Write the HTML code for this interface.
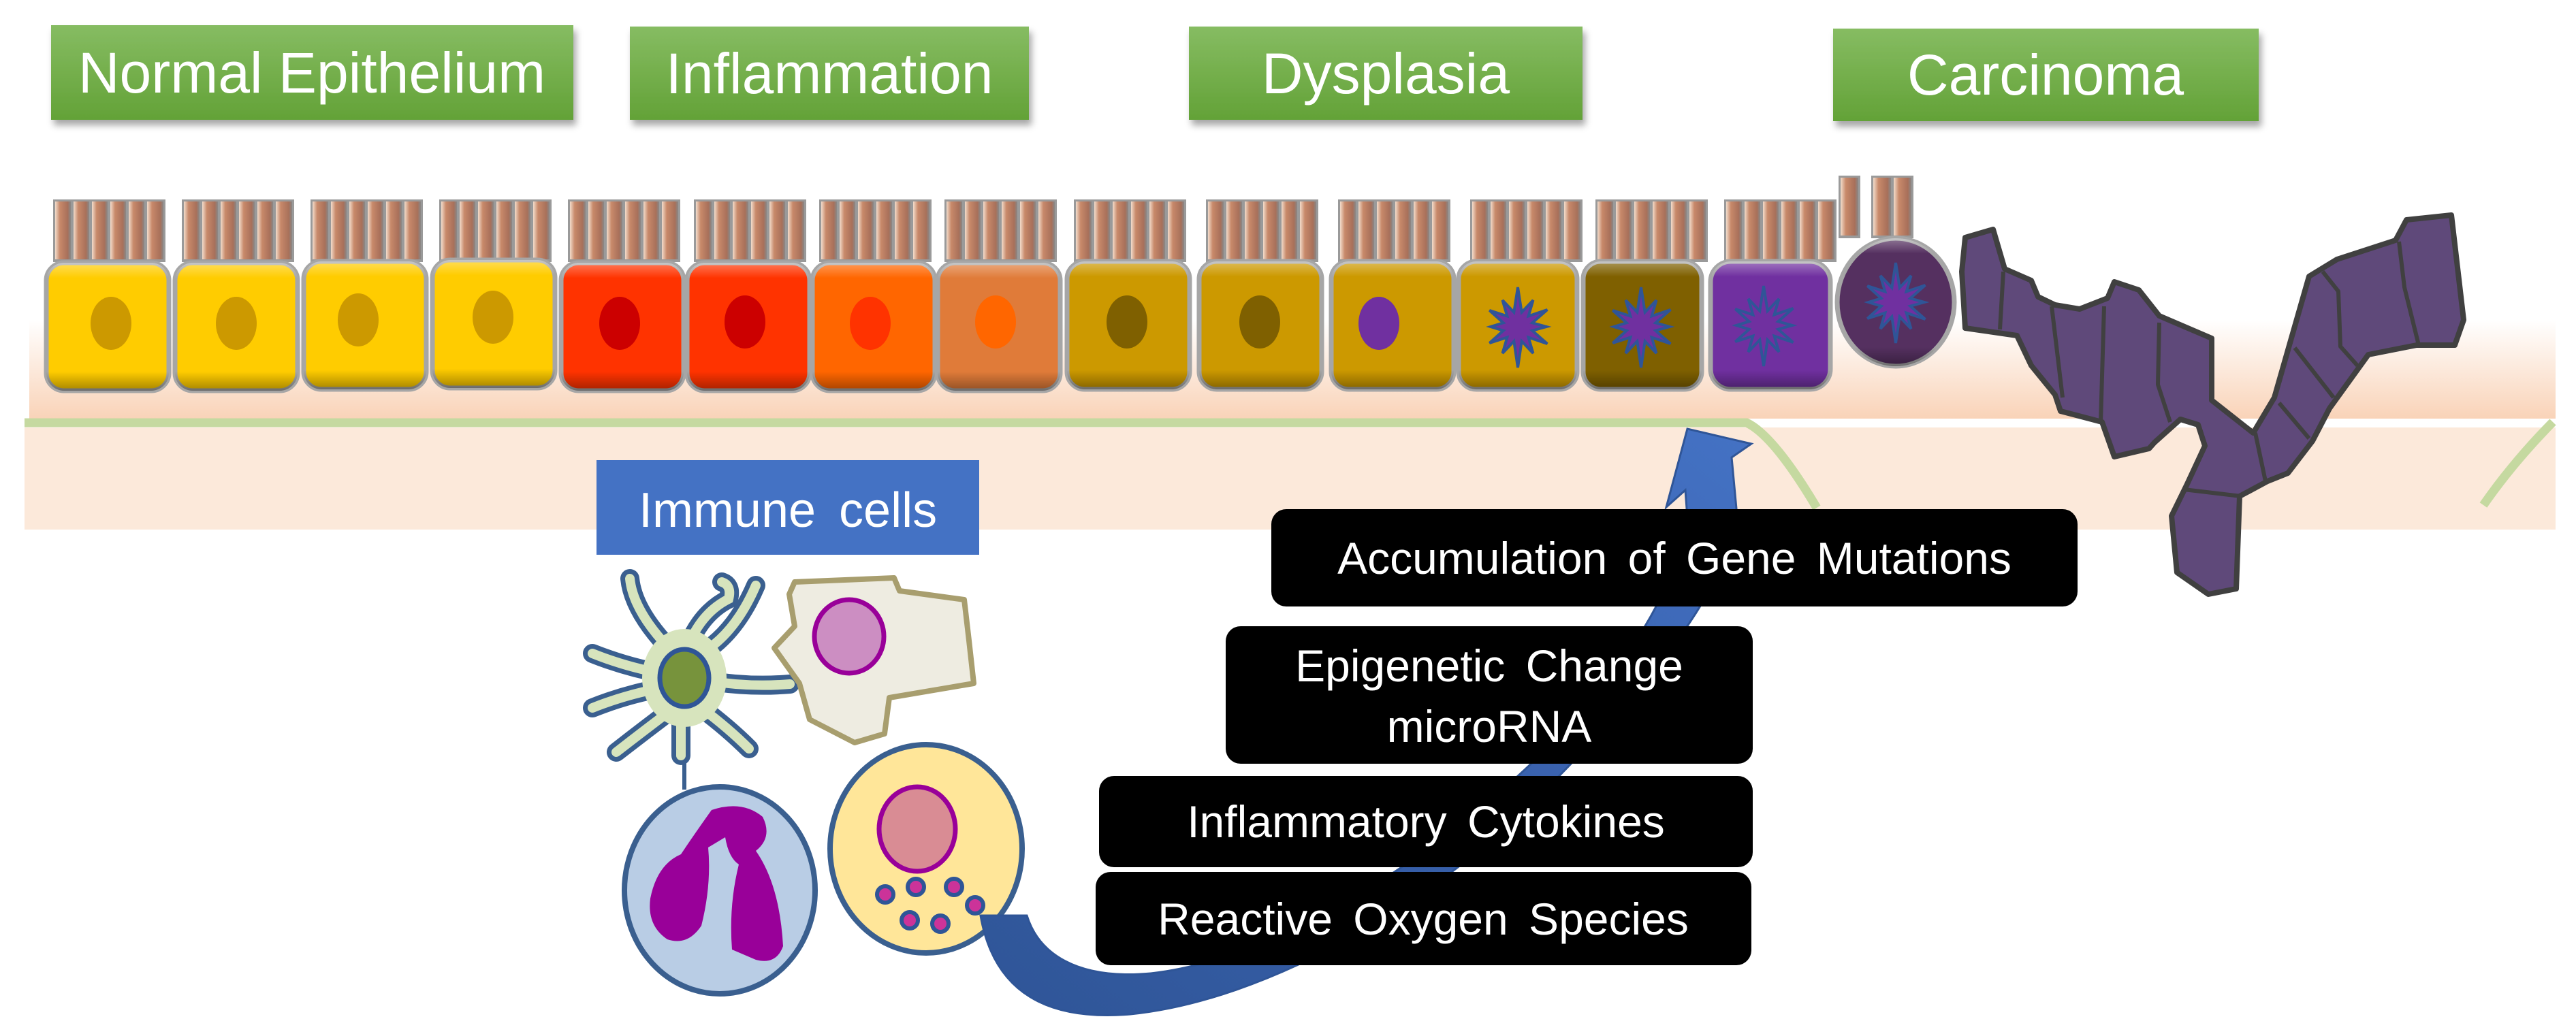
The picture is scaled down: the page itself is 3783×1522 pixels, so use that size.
<!DOCTYPE html>
<html><head><meta charset="utf-8"><style>
html,body{margin:0;padding:0;background:#fff;}
svg{display:block;}
text{font-family:"Liberation Sans",Arial,sans-serif;}
</style></head><body>
<svg width="3783" height="1522" viewBox="0 0 3783 1522" xmlns="http://www.w3.org/2000/svg">
<defs>
<linearGradient id="peach" x1="0" y1="0" x2="0" y2="1">
<stop offset="0" stop-color="#fff"/><stop offset="1" stop-color="#F9D3B8"/></linearGradient>
<linearGradient id="grn" x1="0" y1="0" x2="0" y2="1">
<stop offset="0" stop-color="#86BC62"/><stop offset="1" stop-color="#63A237"/></linearGradient>
<linearGradient id="shade" x1="0" y1="0" x2="0" y2="1">
<stop offset="0" stop-color="#fff" stop-opacity="0.35"/><stop offset="0.12" stop-color="#fff" stop-opacity="0"/>
<stop offset="0.85" stop-color="#000" stop-opacity="0"/><stop offset="1" stop-color="#000" stop-opacity="0.35"/></linearGradient>
<linearGradient id="cilg" x1="0" y1="0" x2="1" y2="0">
<stop offset="0" stop-color="#F2DCCB"/><stop offset="0.3" stop-color="#C8896A"/><stop offset="0.8" stop-color="#A8705A"/><stop offset="1" stop-color="#888"/></linearGradient>
<linearGradient id="arr" x1="0" y1="1" x2="1" y2="0">
<stop offset="0" stop-color="#2F5597"/><stop offset="0.6" stop-color="#3A63B0"/><stop offset="1" stop-color="#4472C4"/></linearGradient>
<filter id="ds" x="-5%" y="-10%" width="115%" height="130%"><feDropShadow dx="4" dy="8" stdDeviation="5" flood-color="#000" flood-opacity="0.35"/></filter>
<g id="cil">
<rect x="0" y="293" width="165" height="92" fill="#9A9A9A"/>
<rect x="3" y="296" width="23" height="85" fill="url(#cilg)"/>
<rect x="30" y="296" width="23" height="85" fill="url(#cilg)"/>
<rect x="57" y="296" width="23" height="85" fill="url(#cilg)"/>
<rect x="84" y="296" width="23" height="85" fill="url(#cilg)"/>
<rect x="111" y="296" width="23" height="85" fill="url(#cilg)"/>
<rect x="138" y="296" width="24" height="85" fill="url(#cilg)"/>
</g>
<polygon id="star" points="0,-58 5.7,-21.3 22.5,-39 15.6,-15.6 43.3,-25 21.3,-5.7 42,0 21.3,5.7 43.3,25 15.6,15.6 22.5,39 5.7,21.3 0,60 -5.7,21.3 -22.5,39 -15.6,15.6 -41.6,24 -21.3,5.7 -40,0 -21.3,-5.7 -41.6,-24 -15.6,-15.6 -22.5,-39 -5.7,-21.3" fill="#7030A0" stroke="#2F5597" stroke-width="4"/>
</defs>

<!-- tissue background -->
<rect x="43" y="470" width="3710" height="145" fill="url(#peach)"/>
<rect x="36" y="628" width="3717" height="150" fill="#FCE9DA"/>
<path d="M36,621 L2565,621 Q2605,640 2668,746" fill="none" stroke="#C5D9A0" stroke-width="13"/>
<path d="M3749,620 Q3690,680 3647,742" fill="none" stroke="#C5D9A0" stroke-width="13"/>

<!-- green labels -->
<g filter="url(#ds)">
<rect x="75" y="37" width="767" height="139" fill="url(#grn)"/>
<rect x="925" y="39" width="586" height="137" fill="url(#grn)"/>
<rect x="1746" y="39" width="578" height="137" fill="url(#grn)"/>
<rect x="2692" y="42" width="625" height="136" fill="url(#grn)"/>
</g>
<g fill="#fff" font-size="84" text-anchor="middle">
<text x="458" y="136">Normal Epithelium</text>
<text x="1218" y="137">Inflammation</text>
<text x="2035" y="137">Dysplasia</text>
<text x="3004" y="139">Carcinoma</text>
</g>

<!-- cilia -->
<use href="#cil" x="78"/><use href="#cil" x="267"/><use href="#cil" x="456"/><use href="#cil" x="645"/>
<use href="#cil" x="834"/><use href="#cil" x="1019"/><use href="#cil" x="1203"/><use href="#cil" x="1387"/>
<use href="#cil" x="1577"/><use href="#cil" x="1771"/><use href="#cil" x="1965"/><use href="#cil" x="2159"/>
<use href="#cil" x="2343"/><use href="#cil" x="2532"/>
<rect x="2700" y="258" width="32" height="92" fill="#9A9A9A"/><rect x="2703" y="261" width="26" height="85" fill="url(#cilg)"/>
<rect x="2748" y="258" width="62" height="92" fill="#9A9A9A"/><rect x="2751" y="261" width="26" height="85" fill="url(#cilg)"/><rect x="2781" y="261" width="26" height="85" fill="url(#cilg)"/>

<!-- cells -->
<g stroke="#A6A6A6" stroke-width="7">
<rect x="68" y="386" width="180" height="188" rx="26" fill="#FFCC00"/>
<rect x="257" y="386" width="180" height="188" rx="26" fill="#FFCC00"/>
<rect x="446" y="384" width="180" height="188" rx="26" fill="#FFCC00"/>
<rect x="635" y="382" width="180" height="188" rx="26" fill="#FFCC00"/>
<rect x="824" y="386" width="180" height="188" rx="26" fill="#FF3300"/>
<rect x="1009" y="386" width="180" height="188" rx="26" fill="#FF3300"/>
<rect x="1193" y="386" width="180" height="188" rx="26" fill="#FF6600"/>
<rect x="1377" y="386" width="180" height="188" rx="26" fill="#E07B39"/>
<rect x="1567" y="384" width="180" height="188" rx="26" fill="#CC9900"/>
<rect x="1761" y="384" width="180" height="188" rx="26" fill="#CC9900"/>
<rect x="1955" y="384" width="180" height="188" rx="26" fill="#CC9900"/>
<rect x="2142" y="384" width="174" height="188" rx="26" fill="#CC9900"/>
<rect x="2325" y="384" width="174" height="188" rx="26" fill="#7F6000"/>
<rect x="2512" y="384" width="176" height="188" rx="30" fill="#7030A0"/>
<ellipse cx="2784" cy="444" rx="86" ry="94" fill="#553060"/>
</g>
<g fill="url(#shade)">
<rect x="68" y="386" width="180" height="188" rx="26"/><rect x="257" y="386" width="180" height="188" rx="26"/>
<rect x="446" y="384" width="180" height="188" rx="26"/><rect x="635" y="382" width="180" height="188" rx="26"/>
<rect x="824" y="386" width="180" height="188" rx="26"/><rect x="1009" y="386" width="180" height="188" rx="26"/>
<rect x="1193" y="386" width="180" height="188" rx="26"/><rect x="1377" y="386" width="180" height="188" rx="26"/>
<rect x="1567" y="384" width="180" height="188" rx="26"/><rect x="1761" y="384" width="180" height="188" rx="26"/>
<rect x="1955" y="384" width="180" height="188" rx="26"/><rect x="2142" y="384" width="174" height="188" rx="26"/>
<rect x="2325" y="384" width="174" height="188" rx="26"/><rect x="2512" y="384" width="176" height="188" rx="30"/>
<ellipse cx="2784" cy="444" rx="86" ry="94"/>
</g>
<ellipse cx="163" cy="475" rx="30" ry="39" fill="#CC9900"/>
<ellipse cx="347" cy="475" rx="30" ry="39" fill="#CC9900"/>
<ellipse cx="526" cy="470" rx="30" ry="39" fill="#CC9900"/>
<ellipse cx="724" cy="466" rx="30" ry="39" fill="#CC9900"/>
<ellipse cx="910" cy="475" rx="30" ry="39" fill="#CC0000"/>
<ellipse cx="1094" cy="473" rx="30" ry="39" fill="#CC0000"/>
<ellipse cx="1278" cy="475" rx="30" ry="39" fill="#FF3300"/>
<ellipse cx="1462" cy="473" rx="30" ry="39" fill="#FF6600"/>
<ellipse cx="1655" cy="473" rx="30" ry="39" fill="#7F6000"/>
<ellipse cx="1850" cy="473" rx="30" ry="39" fill="#7F6000"/>
<ellipse cx="2025" cy="475" rx="30" ry="39" fill="#7030A0"/>
<use href="#star" x="2229" y="480"/>
<use href="#star" x="2410" y="480"/>
<use href="#star" x="2590" y="478"/>
<use href="#star" x="2784" y="444"/>

<!-- carcinoma -->
<path d="M2886,349 L2927,337 L2944,395 L2983,412 L2993,436 L3018,448 L3054,454 L3095,438 L3105,414 L3141,426 L3171,464 L3248,497 L3248,588 L3309,636 L3340,584 L3391,406 L3432,381 L3518,353 L3534,323 L3600,316 L3618,470 L3605,507 L3549,507 L3478,521 L3421,600 L3396,648 L3360,695 L3330,707 L3289,729 L3284,865 L3243,873 L3197,841 L3189,758 L3212,711 L3238,655 L3228,624 L3202,616 L3164,650 L3156,659 L3105,671 L3087,620 L3026,604 L3018,580 L2983,537 L2962,493 L2886,482 L2881,399 Z" fill="#5F497A" stroke="#404040" stroke-width="8" stroke-linejoin="round"/>
<g stroke="#404040" stroke-width="6" fill="none" stroke-linejoin="round">
<path d="M2942,399 L2937,484"/><path d="M3013,450 L3029,584"/><path d="M3090,450 L3085,620"/><path d="M3171,474 L3169,565 L3187,620"/>
<path d="M3411,399 L3434,428 L3437,509 L3462,537"/><path d="M3523,355 L3531,422 L3552,507"/>
<path d="M3370,511 L3427,584"/><path d="M3347,592 L3391,644"/><path d="M3312,636 L3327,707"/><path d="M3207,719 L3291,729"/>
</g>

<!-- immune box -->
<rect x="876" y="676" width="562" height="139" fill="#4472C4"/>
<text x="1157" y="774" fill="#fff" font-size="72" text-anchor="middle" word-spacing="14">Immune cells</text>

<!-- dendritic cell -->
<line x1="1005" y1="1100" x2="1005" y2="1160" stroke="#3A5F8F" stroke-width="6"/>
<g stroke-linecap="round" fill="none">
<g stroke="#3A5F8F" stroke-width="28">
<path d="M990,960 Q930,900 925,850"/><path d="M1010,950 Q1030,900 1070,880 Q1075,860 1060,855"/>
<path d="M1030,960 Q1080,930 1110,860"/><path d="M975,990 Q920,980 870,960"/><path d="M975,1010 Q920,1020 870,1040"/>
<path d="M1040,1000 Q1100,1010 1160,1005"/><path d="M990,1040 Q950,1070 905,1105"/><path d="M1030,1040 Q1070,1070 1100,1100"/>
<path d="M1000,1040 L1000,1110"/>
</g>
<g stroke="#D7E4BD" stroke-width="14">
<path d="M990,960 Q930,900 925,850"/><path d="M1010,950 Q1030,900 1070,880 Q1075,860 1060,855"/>
<path d="M1030,960 Q1080,930 1110,860"/><path d="M975,990 Q920,980 870,960"/><path d="M975,1010 Q920,1020 870,1040"/>
<path d="M1040,1000 Q1100,1010 1160,1005"/><path d="M990,1040 Q950,1070 905,1105"/><path d="M1030,1040 Q1070,1070 1100,1100"/>
<path d="M1000,1040 L1000,1110"/>
</g>
</g>
<ellipse cx="1005" cy="996" rx="62" ry="72" fill="#D7E4BD"/>
<ellipse cx="1005" cy="996" rx="36" ry="42" fill="#77933C" stroke="#2F5597" stroke-width="7"/>
<!-- macrophage -->
<polygon points="1167,855 1313,849 1321,868 1416,881 1423,941 1430,1004 1306,1025 1299,1078 1255,1091 1189,1057 1174,1004 1137,952 1167,920 1159,873" fill="#EEECE1" stroke="#A89E6E" stroke-width="8" stroke-linejoin="round"/>
<ellipse cx="1247" cy="935" rx="51" ry="54" fill="#CC8EC2" stroke="#990099" stroke-width="7"/>
<!-- neutrophil -->
<ellipse cx="1057" cy="1308" rx="140" ry="152" fill="#B9CDE5" stroke="#3A5F8F" stroke-width="8"/>
<path d="M1045,1190 Q1090,1175 1120,1200 Q1135,1230 1110,1250 Q1145,1300 1150,1390 Q1140,1418 1110,1410 L1075,1395 Q1070,1330 1085,1270 Q1070,1260 1065,1230 L1040,1245 Q1045,1300 1030,1360 Q1010,1390 980,1380 Q950,1360 955,1320 Q965,1270 1000,1255 Q1020,1225 1045,1190 Z" fill="#990099"/>
<!-- granulocyte -->
<ellipse cx="1360" cy="1247" rx="141" ry="153" fill="#FFE699" stroke="#3A5F8F" stroke-width="8"/>
<ellipse cx="1347" cy="1218" rx="56" ry="62" fill="#D98C94" stroke="#990099" stroke-width="7"/>
<g fill="#CC3399" stroke="#2F5597" stroke-width="6">
<circle cx="1300" cy="1314" r="12"/><circle cx="1345" cy="1303" r="12"/><circle cx="1401" cy="1303" r="12"/>
<circle cx="1432" cy="1330" r="12"/><circle cx="1336" cy="1352" r="12"/><circle cx="1381" cy="1357" r="12"/>
</g>

<!-- arrow -->
<path d="M1440,1345 C1460,1460 1540,1500 1660,1490 C1860,1470 2100,1330 2260,1170 C2420,1010 2545,860 2550,747 L2543,672 L2572,652 L2478,630 L2447,745 L2475,720 L2477,747 C2470,860 2380,1000 2240,1130 C2090,1270 1870,1410 1690,1430 C1580,1440 1525,1400 1508,1345 Z" fill="url(#arr)" stroke="#2F5597" stroke-width="3" stroke-linejoin="miter"/>

<!-- black boxes -->
<g fill="#000">
<rect x="1867" y="748" width="1184" height="143" rx="22"/>
<rect x="1800" y="920" width="774" height="202" rx="22"/>
<rect x="1614" y="1140" width="960" height="134" rx="22"/>
<rect x="1609" y="1281" width="963" height="137" rx="22"/>
</g>
<g fill="#fff" font-size="66" text-anchor="middle" word-spacing="12">
<text x="2459" y="843">Accumulation of Gene Mutations</text>
<text x="2187" y="1001">Epigenetic Change</text>
<text x="2187" y="1090">microRNA</text>
<text x="2094" y="1230">Inflammatory Cytokines</text>
<text x="2090" y="1373">Reactive Oxygen Species</text>
</g>
</svg>
</body></html>
